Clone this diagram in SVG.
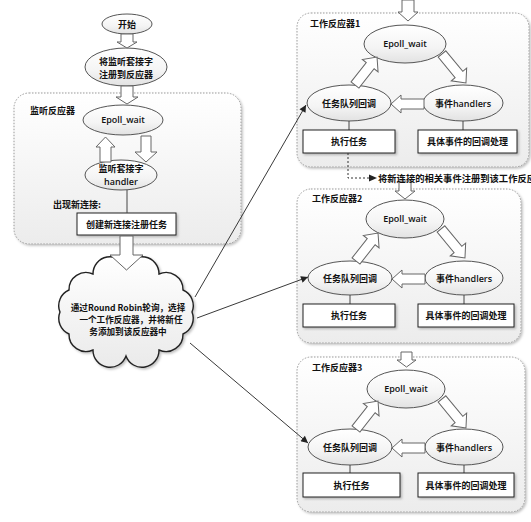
<svg xmlns="http://www.w3.org/2000/svg" width="531" height="522" viewBox="0 0 531 522">
<style>
text{font-family:"Noto Sans CJK SC","Liberation Sans",sans-serif;font-weight:bold;font-size:9px;fill:#111}
.c{text-anchor:middle}
.en{font-family:"Open Sans","Liberation Sans",sans-serif;font-weight:600;font-size:9px}
.cl{font-size:8.6px}
.ell{fill:url(#gEll);stroke:#555;stroke-width:1}
.box{fill:#fff;stroke:#222;stroke-width:1;filter:url(#sh)}
.cont{fill:url(#gCont);stroke:#9a9a9a;stroke-width:1;stroke-dasharray:1.5 1.5;filter:url(#sh)}
.harr{fill:#fff;stroke:#666;stroke-width:1}
.tie{stroke:#444;stroke-width:1;fill:none}
.ln{stroke:#222;stroke-width:0.9;fill:none;marker-end:url(#ah)}
.dash{stroke:#333;stroke-width:1;fill:none;stroke-dasharray:2 2}
</style>
<defs>
<linearGradient id="gEll" x1="0" y1="0" x2="0" y2="1">
<stop offset="0" stop-color="#ffffff"/><stop offset="0.6" stop-color="#f4f4f4"/><stop offset="1" stop-color="#e2e2e2"/>
</linearGradient>
<linearGradient id="gCont" x1="0" y1="0" x2="0" y2="1">
<stop offset="0" stop-color="#ffffff"/><stop offset="1" stop-color="#ececec"/>
</linearGradient>
<linearGradient id="gCloud" x1="0" y1="0" x2="0" y2="1">
<stop offset="0" stop-color="#ffffff"/><stop offset="1" stop-color="#eaeaea"/>
</linearGradient>
<filter id="sh" x="-10%" y="-10%" width="125%" height="125%">
<feDropShadow dx="1.5" dy="1.5" stdDeviation="1.2" flood-color="#000" flood-opacity="0.25"/>
</filter>
<marker id="ah" viewBox="0 0 10 10" refX="10" refY="5" markerWidth="9" markerHeight="7" markerUnits="userSpaceOnUse" orient="auto">
<path d="M0,0 L10,5 L0,10 Z" fill="#222"/>
</marker>
</defs>

<!-- containers -->
<g id="listenReactor">
<rect class="cont" x="14" y="93" width="227" height="151" rx="15"/>
<text x="30" y="114">监听反应器</text>
</g>
<g id="worker1">
<rect class="cont" x="297" y="13" width="232" height="154" rx="14"/>
</g>
<g id="worker2">
<rect class="cont" x="297" y="189" width="224" height="154" rx="14"/>
</g>
<g id="worker3">
<rect class="cont" x="297" y="357" width="228" height="155" rx="14"/>
</g>

<!-- left column nodes -->
<g id="start">
<ellipse class="ell" cx="127" cy="24" rx="25" ry="10"/>
<text class="c" x="127" y="27.5">开始</text>
</g>
<g id="register">
<ellipse class="ell" cx="126" cy="67" rx="41" ry="19"/>
<text class="c" x="126" y="65">将监听套接字</text>
<text class="c" x="126" y="78">注册到反应器</text>
</g>
<g id="listenEpoll">
<ellipse class="ell" cx="123" cy="120" rx="40" ry="15"/>
<text class="c en" x="123" y="123">Epoll_wait</text>
</g>
<g id="listenHandler">
<ellipse class="ell" cx="121" cy="175" rx="36" ry="15"/>
<text class="c" x="121" y="172">监听套接字</text>
<text class="c en" x="121" y="185">handler</text>
</g>
<g id="newConnLabel">
<text x="53" y="208">出现新连接:</text>
</g>
<g id="createTask">
<rect class="box" x="77" y="213" width="99" height="22"/>
<text class="c" x="126.5" y="227.5">创建新连接注册任务</text>
</g>
<g id="cloud">
<path d="M192,312 A17,17 0 0 1 183,334 A17,17 0 0 1 159,350 A17,17 0 0 1 126,356 A17,17 0 0 1 93,350 A17,17 0 0 1 69,334 A17,17 0 0 1 60,312 A17,17 0 0 1 69,290 A17,17 0 0 1 93,274 A17,17 0 0 1 126,268 A17,17 0 0 1 159,274 A17,17 0 0 1 183,290 A17,17 0 0 1 192,312 Z" fill="url(#gCloud)" stroke="#222" stroke-width="1.4" filter="url(#sh)"/>
<text class="c cl" x="128" y="311">通过Round Robin轮询，选择</text>
<text class="c cl" x="131" y="323">一个工作反应器，并将新任</text>
<text class="c cl" x="128" y="335">务添加到该反应器中</text>
</g>

<!-- worker reactors inner content -->
<g id="worker1Inner" transform="translate(297,13)">
<text x="13" y="14">工作反应器1</text>
<ellipse class="ell" cx="108" cy="31" rx="41" ry="19"/>
<text class="c en" x="108" y="34">Epoll_wait</text>
<ellipse class="ell" cx="52" cy="90" rx="42" ry="18"/>
<text class="c" x="52" y="93.5">任务队列回调</text>
<ellipse class="ell" cx="166" cy="90" rx="40" ry="18"/>
<text class="c" x="166" y="93.5">事件<tspan class="en">handlers</tspan></text>
<line class="tie" x1="52" y1="108" x2="52" y2="117"/>
<line class="tie" x1="166" y1="108" x2="166" y2="117"/>
<rect class="box" x="6" y="117" width="92" height="23"/>
<text class="c" x="52" y="132">执行任务</text>
<rect class="box" x="121" y="117" width="99" height="23"/>
<text class="c" x="170.5" y="132">具体事件的回调处理</text>
</g>
<g id="worker2Inner" transform="translate(297,188)">
<text x="15" y="14">工作反应器2</text>
<ellipse class="ell" cx="108" cy="31" rx="39" ry="19"/>
<text class="c en" x="108" y="34">Epoll_wait</text>
<ellipse class="ell" cx="53" cy="90" rx="42" ry="17"/>
<text class="c" x="53" y="93.5">任务队列回调</text>
<ellipse class="ell" cx="167" cy="90" rx="39" ry="17"/>
<text class="c" x="167" y="93.5">事件<tspan class="en">handlers</tspan></text>
<line class="tie" x1="53" y1="107" x2="53" y2="116"/>
<line class="tie" x1="167" y1="107" x2="167" y2="116"/>
<rect class="box" x="6" y="116" width="92" height="23"/>
<text class="c" x="52" y="131">执行任务</text>
<rect class="box" x="121" y="116" width="96" height="23"/>
<text class="c" x="169" y="131">具体事件的回调处理</text>
</g>
<g id="worker3Inner" transform="translate(297,357)">
<text x="15" y="14">工作反应器3</text>
<ellipse class="ell" cx="109" cy="32" rx="39" ry="19"/>
<text class="c en" x="109" y="35">Epoll_wait</text>
<ellipse class="ell" cx="53" cy="90" rx="42" ry="18"/>
<text class="c" x="53" y="93.5">任务队列回调</text>
<ellipse class="ell" cx="167" cy="90" rx="39" ry="18"/>
<text class="c" x="167" y="93.5">事件<tspan class="en">handlers</tspan></text>
<line class="tie" x1="53" y1="108" x2="53" y2="116"/>
<line class="tie" x1="167" y1="108" x2="167" y2="116"/>
<rect class="box" x="6" y="116" width="97" height="24"/>
<text class="c" x="54.5" y="131.5">执行任务</text>
<rect class="box" x="121" y="116" width="96" height="24"/>
<text class="c" x="169" y="131.5">具体事件的回调处理</text>
</g>

<!-- connectors -->
<g id="connectors">
<path class="harr" d="M121,34 L133,34 L133,42 L137,42 L127,48 L117,42 L121,42 Z"/>
<path class="harr" d="M121,86 L133,86 L133,97 L138,97 L127,104 L116,97 L121,97 Z"/>
<path class="harr" d="M100,162 L111,162 L111,147 L115,147 L105.5,137 L96,147 L100,147 Z"/>
<path class="harr" d="M141,136 L151,136 L151,152 L157,152 L146,162 L135,152 L141,152 Z"/>
<line class="tie" x1="127" y1="190" x2="127" y2="213"/>
<path class="harr" d="M120,236 L133,236 L133,255 L143,255 L126.5,270 L110,255 L120,255 Z"/>

<line class="ln" x1="195" y1="297" x2="306" y2="105"/>
<line class="ln" x1="197" y1="318" x2="308" y2="277"/>
<line class="ln" x1="190" y1="343" x2="308" y2="443"/>

<path class="harr" d="M402,0 L414,0 L414,12 L418,12 L408,21 L398,12 L402,12 Z"/>
<path class="harr" d="M399,181 L411,181 L411,191 L415,191 L405,199 L395,191 L399,191 Z"/>
<path class="harr" d="M401,352 L412,352 L412,360 L416,360 L406.5,367 L397,360 L401,360 Z"/>

<g transform="translate(297,13)">
<path class="harr" transform="translate(58,72) rotate(-51.8)" d="M0,-5 L24.6,-5 L24.6,-10 L35.6,0 L24.6,10 L24.6,5 L0,5 Z"/>
<path class="harr" transform="translate(145,41) rotate(50.4)" d="M0,-5 L26.6,-5 L26.6,-10 L37.6,0 L26.6,10 L26.6,5 L0,5 Z"/>
<path class="harr" transform="translate(127,91) rotate(180)" d="M0,-5 L23,-5 L23,-9 L33,0 L23,9 L23,5 L0,5 Z"/>
</g>
<g transform="translate(297,188)">
<path class="harr" transform="translate(59,73) rotate(-51.8)" d="M0,-5 L24.6,-5 L24.6,-10 L35.6,0 L24.6,10 L24.6,5 L0,5 Z"/>
<path class="harr" transform="translate(144,41) rotate(50.4)" d="M0,-5 L26.6,-5 L26.6,-10 L37.6,0 L26.6,10 L26.6,5 L0,5 Z"/>
<path class="harr" transform="translate(128,91) rotate(180)" d="M0,-5 L23,-5 L23,-9 L33,0 L23,9 L23,5 L0,5 Z"/>
</g>
<g transform="translate(297,357)">
<path class="harr" transform="translate(59,72) rotate(-51.8)" d="M0,-5 L24.6,-5 L24.6,-10 L35.6,0 L24.6,10 L24.6,5 L0,5 Z"/>
<path class="harr" transform="translate(145,42) rotate(50.4)" d="M0,-5 L26.6,-5 L26.6,-10 L37.6,0 L26.6,10 L26.6,5 L0,5 Z"/>
<path class="harr" transform="translate(128,91) rotate(180)" d="M0,-5 L23,-5 L23,-9 L33,0 L23,9 L23,5 L0,5 Z"/>
</g>

<path class="dash" d="M348,153 L348,178 L370,178"/>
<path d="M369,174.5 L377,178 L369,181.5 Z" fill="#222"/>
<text x="378" y="181.5" style="font-size:9.3px">将新连接的相关事件注册到该工作反应器</text>
</g>
</svg>
